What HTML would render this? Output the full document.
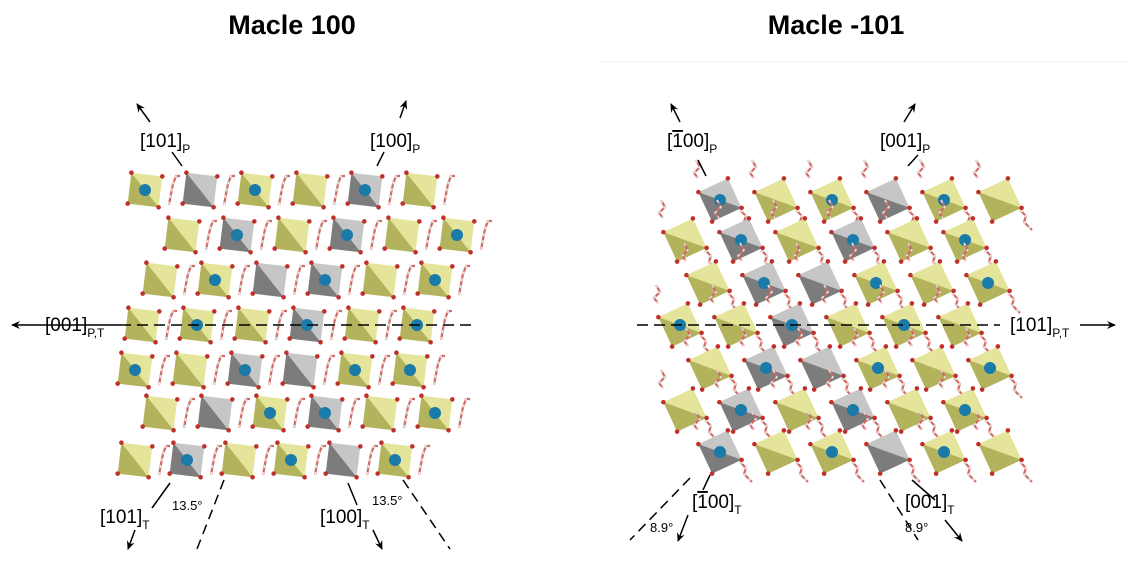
<!DOCTYPE html>
<html><head><meta charset="utf-8"><style>
body{margin:0;background:#fff;width:1130px;height:563px;overflow:hidden}
svg{display:block;font-family:"Liberation Sans",sans-serif}
</style></head><body>
<svg id="s" width="1130" height="563" viewBox="0 0 1130 563">
<defs>
<marker id="a" markerWidth="10" markerHeight="10" refX="8" refY="5" orient="auto" markerUnits="userSpaceOnUse"><path d="M0,1 L9,5 L0,9 L3,5z" fill="#000"/></marker>
</defs>
<text x="292" y="34" font-size="27" font-weight="bold" text-anchor="middle">Macle 100</text>
<text x="836" y="34" font-size="27" font-weight="bold" text-anchor="middle">Macle -101</text>
<line x1="600" y1="62" x2="1128" y2="62" stroke="#f2f2f2"/>
<g id="L"></g><g id="R"></g>
<g stroke="#000" stroke-width="1.5" fill="none">
<line x1="182" y1="166" x2="172" y2="152"/><line x1="150" y1="122" x2="137" y2="104" marker-end="url(#a)"/>
<line x1="377" y1="166" x2="384" y2="152"/><line x1="400" y1="118" x2="406" y2="101" marker-end="url(#a)"/>
<line x1="120" y1="325" x2="12" y2="325" marker-end="url(#a)"/>
<line x1="120" y1="325" x2="475" y2="325" stroke-dasharray="11,6"/>
<line x1="170" y1="483" x2="152" y2="508"/><line x1="135" y1="530" x2="128" y2="549" marker-end="url(#a)"/>
<line x1="224" y1="480" x2="197" y2="549" stroke-dasharray="10,6"/>
<line x1="348" y1="483" x2="357" y2="505"/><line x1="373" y1="530" x2="382" y2="549" marker-end="url(#a)"/>
<line x1="403" y1="480" x2="450" y2="549" stroke-dasharray="10,6"/>
<line x1="706" y1="176" x2="698" y2="160"/><line x1="680" y1="122" x2="671" y2="104" marker-end="url(#a)"/>
<line x1="908" y1="166" x2="918" y2="155"/><line x1="904" y1="122" x2="915" y2="104" marker-end="url(#a)"/>
<line x1="637" y1="325" x2="1000" y2="325" stroke-dasharray="11,6"/>
<line x1="1080" y1="325" x2="1115" y2="325" marker-end="url(#a)"/>
<line x1="710" y1="475" x2="703" y2="490"/><line x1="688" y1="515" x2="678" y2="541" marker-end="url(#a)"/>
<line x1="690" y1="478" x2="630" y2="540" stroke-dasharray="10,6"/>
<line x1="912" y1="480" x2="935" y2="500"/><line x1="945" y1="520" x2="962" y2="541" marker-end="url(#a)"/>
<line x1="880" y1="480" x2="918" y2="540" stroke-dasharray="10,6"/>
</g>
<g font-size="19" fill="#000">
<text x="140" y="147">[101]<tspan font-size="12" dy="6">P</tspan></text>
<text x="370" y="147">[100]<tspan font-size="12" dy="6">P</tspan></text>
<text x="45" y="331">[001]<tspan font-size="12" dy="6">P,T</tspan></text>
<text x="100" y="523">[101]<tspan font-size="12" dy="6">T</tspan></text>
<text x="320" y="523">[100]<tspan font-size="12" dy="6">T</tspan></text>
<text x="667" y="147">[<tspan text-decoration="overline">1</tspan>00]<tspan font-size="12" dy="6">P</tspan></text>
<text x="880" y="147">[001]<tspan font-size="12" dy="6">P</tspan></text>
<text x="1010" y="331">[101]<tspan font-size="12" dy="6">P,T</tspan></text>
<text x="692" y="508">[<tspan text-decoration="overline">1</tspan>00]<tspan font-size="12" dy="6">T</tspan></text>
<text x="905" y="508">[001]<tspan font-size="12" dy="6">T</tspan></text>
</g>
<g font-size="13"><text x="172" y="510">13.5°</text><text x="372" y="505">13.5°</text>
<text x="650" y="532">8.9°</text><text x="905" y="532">8.9°</text></g>
</svg>
<script>
var NS="http://www.w3.org/2000/svg";
function el(p,t,a){var e=document.createElementNS(NS,t);for(var k in a)e.setAttribute(k,a[k]);p.appendChild(e);return e;}
function poly(g,cx,cy,h,rot,gray,ball){
 var pts=[];for(var i=0;i<4;i++){var an=rot+i*Math.PI/2;pts.push([cx+h*Math.cos(an),cy+h*Math.sin(an)]);}
 var c1=gray?"#7c7c7c":"#b3b35e",c2=gray?"#c6c6c6":"#e4e49a";
 el(g,"polygon",{points:pts.map(function(p){return p.join(",")}).join(" "),fill:c2});
 el(g,"polygon",{points:[pts[0],pts[1],pts[2]].map(function(p){return p.join(",")}).join(" "),fill:c1});
 pts.forEach(function(p){el(g,"circle",{cx:p[0],cy:p[1],r:2.3,fill:"#c0302a"});});
 if(ball)el(g,"circle",{cx:cx,cy:cy,r:6,fill:"#1a7aa8"});
}
function link(g,pts){
 var s=pts.map(function(p){return p.join(",")}).join(" ");
 el(g,"polyline",{points:s,fill:"none",stroke:"#d06a62","stroke-width":2.2});
 el(g,"polyline",{points:s,fill:"none",stroke:"#e4e4e4","stroke-width":1.6,"stroke-dasharray":"3,4"});
}
var L=document.getElementById("L");
var rows=[
 [190,145,55,"Yb G Yb Y Gb Y"],
 [235,182,55,"Y Gb Y Gb Y Yb"],
 [280,160,55,"Y Yb G Gb Y Yb"],
 [325,142,55,"Y Yb Y Gb Y Yb"],
 [370,135,55,"Yb Y Gb G Yb Yb"],
 [413,160,55,"Y G Yb Gb Y Yb"],
 [460,135,52,"Y Gb Y Yb G Yb"]];
rows.forEach(function(r){
 var t=r[3].split(" ");
 for(var c=0;c<t.length;c++){
  var x=r[1]+c*r[2],y=r[0];
  var lx=x+27;
  link(L,[[lx-3,y+15],[lx-1,y+4],[lx+1,y-6],[lx+4,y-14],[lx+8,y-14]]);
  poly(L,x,y,22,Math.PI/4+0.12,t[c][0]=="G",t[c].length>1);
 }
});
var R=document.getElementById("R");
var rr=[
 [200,720,"Gb Y Yb G Yb Y"],
 [240,685,"Y Gb Y Gb Y Yb"],
 [283,708,"Y Gb G Yb Y Yb"],
 [325,680,"Yb Y Gb Y Yb Y"],
 [368,710,"Y Gb G Yb Y Yb"],
 [410,685,"Y Gb Y Gb Y Yb"],
 [452,720,"Gb Y Yb G Yb Y"]];
rr.forEach(function(r){
 var t=r[2].split(" ");
 for(var c=0;c<t.length;c++){
  var x=r[1]+c*56,y=r[0];
  link(R,[[x+20,y+10],[x+26,y+16],[x+24,y+22],[x+32,y+30]]);
  link(R,[[x-24,y-40],[x-20,y-33],[x-26,y-27],[x-22,y-22]]);
  poly(R,x,y,23,0.35,t[c][0]=="G",t[c].length>1);
 }
});
</script>
</body></html>
